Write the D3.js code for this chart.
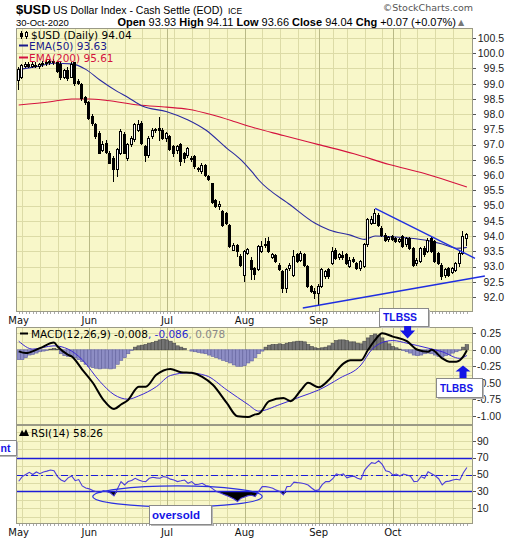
<!DOCTYPE html>
<html>
<head>
<meta charset="utf-8">
<script src="https://cdn.jsdelivr.net/npm/d3@7/dist/d3.min.js"></script>
<style>
  body { margin: 0; background: #fff; }
  text { font-family: "DejaVu Sans", sans-serif; }
</style>
</head>
<body>
<svg id="chart" width="520" height="540"></svg>
<script>
// ---- data (one entry per trading day, 1-May .. 30-Oct-2020) ----
var monthLabels = ["May", "Jun", "Jul", "Aug", "Sep", "Oct"];
var monthStarts = [0, 20, 42, 64, 85, 106];
var weekStarts = [1, 6, 11, 16, 25, 30, 35, 40, 44, 49, 54, 59, 69, 74, 79, 84, 89, 93, 98, 103, 108, 113, 118, 123];

var opens = [99.12,99.22,99.58,99.62,99.58,99.60,99.56,99.62,99.66,99.68,
  99.72,99.70,99.62,99.22,99.42,99.22,99.68,99.08,98.96,98.55,
  98.38,97.92,97.65,97.37,96.80,97.05,96.72,96.55,96.17,96.72,
  97.32,96.55,97.00,97.16,97.48,97.70,96.94,96.66,97.26,97.45,
  97.52,97.46,97.20,97.26,96.94,96.80,96.99,96.70,96.66,96.55,
  96.60,96.22,96.11,96.30,95.95,95.71,95.18,94.97,94.80,94.75,
  94.36,93.54,93.70,93.33,92.72,93.43,93.21,92.95,92.90,93.50,
  93.70,93.82,93.30,93.35,93.05,92.83,92.28,92.95,92.72,93.38,
  93.21,93.38,92.99,92.34,92.17,92.12,92.36,92.67,92.89,93.10,
  93.54,93.30,93.35,93.38,93.00,93.22,93.10,92.94,93.00,93.71,
  94.42,94.42,94.69,94.25,94.03,93.90,93.98,93.92,93.82,93.98,
  93.71,93.93,93.60,93.10,93.16,93.60,93.49,93.93,93.82,93.43,
  93.05,92.69,92.95,92.80,92.86,93.10,93.43,93.93];
var highs = [99.55,99.66,99.70,99.72,99.70,99.72,99.68,99.74,99.78,99.80,
  99.82,99.76,99.70,99.48,99.55,99.70,99.72,99.14,99.02,98.60,
  98.42,98.00,97.72,97.45,97.12,97.15,96.80,96.62,96.88,97.52,
  97.40,97.05,97.28,97.72,97.80,97.78,97.00,97.28,97.55,97.55,
  97.90,97.55,97.40,97.32,97.00,97.00,97.05,96.75,96.92,96.62,
  96.65,96.28,96.40,96.35,96.00,95.75,95.22,95.15,94.85,94.80,
  94.40,93.78,93.75,93.40,93.55,93.62,93.32,93.00,93.70,93.85,
  93.95,93.98,93.45,93.40,93.12,92.90,92.95,93.10,93.54,93.45,
  93.50,93.45,93.05,92.40,92.28,92.42,92.95,92.90,92.95,93.65,
  93.60,93.45,93.50,93.45,93.30,93.30,93.15,93.20,93.78,94.58,
  94.65,94.88,94.75,94.32,94.10,94.00,94.02,93.98,93.95,94.05,
  93.98,93.98,93.65,93.28,93.65,93.68,93.92,94.00,93.88,93.48,
  93.10,92.95,93.00,92.98,93.15,93.50,94.18,94.11];
var lows = [98.78,99.15,99.50,99.52,99.50,99.52,99.48,99.55,99.58,99.60,
  99.62,99.36,99.12,99.15,99.10,99.20,98.92,98.95,98.42,98.30,
  97.82,97.62,97.20,96.68,96.75,96.70,96.35,95.78,95.95,96.65,
  96.68,96.45,96.92,97.10,97.40,96.98,96.42,96.55,97.20,97.38,
  97.12,97.15,97.10,96.80,96.60,96.70,96.30,96.40,96.55,96.42,
  96.20,96.10,96.05,95.95,95.80,95.05,94.92,94.85,94.30,94.35,
  93.60,93.50,93.30,93.00,92.50,93.38,92.56,92.55,92.85,93.45,
  93.60,93.45,93.25,93.10,92.85,92.12,92.12,92.85,92.65,93.10,
  93.15,93.00,92.30,92.12,91.95,91.74,92.30,92.60,92.60,93.05,
  93.20,93.22,93.20,93.05,92.95,93.10,92.88,92.85,92.95,93.65,
  94.35,94.38,94.30,93.98,93.82,93.80,93.85,93.78,93.78,93.60,
  93.65,93.55,93.00,93.02,93.10,93.32,93.45,93.45,93.12,93.05,
  92.56,92.62,92.65,92.75,92.82,93.00,93.38,93.66];
var closes = [99.48,99.60,99.62,99.58,99.62,99.56,99.62,99.66,99.68,99.72,
  99.70,99.40,99.20,99.42,99.18,99.64,99.00,99.02,98.50,98.38,
  97.87,97.68,97.26,96.72,97.02,96.74,96.39,96.17,96.83,97.43,
  96.72,97.00,97.20,97.65,97.65,97.05,96.66,97.20,97.48,97.50,
  97.46,97.20,97.35,96.83,96.72,96.95,96.44,96.55,96.88,96.50,
  96.28,96.17,96.33,96.00,95.84,95.10,94.97,95.05,94.36,94.40,
  93.65,93.70,93.50,93.05,93.49,93.57,92.89,92.75,93.65,93.65,
  93.72,93.49,93.38,93.16,92.89,92.28,92.89,93.05,93.32,93.16,
  93.43,93.05,92.34,92.17,92.12,92.36,92.89,92.83,92.67,93.49,
  93.27,93.38,93.30,93.10,93.21,93.18,92.94,93.16,93.71,94.53,
  94.53,94.75,94.36,94.03,93.87,93.95,93.90,93.82,93.90,93.65,
  93.93,93.60,93.05,93.21,93.60,93.38,93.87,93.49,93.16,93.10,
  92.67,92.90,92.69,92.95,93.10,93.43,93.98,94.04];

// moving averages, read at sample days
var ema50Days = [0, 5, 10, 15, 19, 23, 28, 31, 35, 42, 48, 53, 59, 63, 66, 68, 77, 84, 88, 94, 98, 101, 105, 111, 116, 120, 124, 127];
var ema50Vals = [99.47, 99.56, 99.67, 99.65, 99.47, 99.12, 98.74, 98.55, 98.27, 98.08, 97.81, 97.48, 96.88, 96.50, 96.12, 95.84, 95.02, 94.42, 94.20, 94.03, 93.89, 94.00, 93.98, 93.93, 93.85, 93.74, 93.60, 93.63];
var ema200Days = [0, 9, 15, 20, 25, 34, 42, 48, 55, 61, 65, 75, 85, 95, 105, 115, 122, 127];
var ema200Vals = [98.30, 98.41, 98.50, 98.50, 98.45, 98.30, 98.23, 98.16, 97.97, 97.76, 97.61, 97.30, 97.00, 96.70, 96.35, 96.05, 95.80, 95.61];

// MACD(12,26,9)
var macdDays = [0, 2, 6, 10, 11, 14, 15, 18, 21, 24, 27, 29, 31, 34, 36, 39, 43, 46, 49, 52, 55, 59, 62, 65, 67, 68, 71, 75, 77, 80, 82, 85, 88, 92, 94, 97, 99, 101, 103, 106, 110, 113, 116, 117, 120, 122, 124, 126, 127];
var macdVals = [-0.025, -0.05, 0.025, 0.11, 0.05, -0.076, -0.10, -0.30, -0.50, -0.76, -0.90, -0.83, -0.76, -0.56, -0.56, -0.38, -0.29, -0.34, -0.35, -0.41, -0.53, -0.81, -1.01, -1.02, -0.98, -0.97, -0.78, -0.73, -0.78, -0.61, -0.50, -0.57, -0.45, -0.21, -0.16, -0.16, 0.0, 0.15, 0.25, 0.20, 0.13, 0.0, -0.03, 0.0, -0.13, -0.18, -0.18, -0.10, -0.008];
var signalDays = [0, 4, 10, 14, 18, 23, 27, 31, 34, 39, 43, 48, 53, 59, 65, 68, 74, 80, 85, 91, 97, 100, 103, 106, 110, 116, 120, 125, 127];
var signalVals = [0.13, 0.01, 0.06, 0.01, -0.15, -0.48, -0.68, -0.75, -0.70, -0.56, -0.39, -0.35, -0.39, -0.61, -0.83, -0.93, -0.83, -0.71, -0.61, -0.43, -0.23, 0.0, 0.11, 0.14, 0.10, 0.025, -0.03, -0.13, -0.086];
var histVals = [-0.15,-0.15,-0.12,-0.08,-0.07,-0.05,-0.03,-0.02,-0.01,0.01,
  0.02,0.01,-0.06,-0.09,-0.10,-0.10,-0.12,-0.15,-0.18,-0.22,
  -0.25,-0.27,-0.28,-0.29,-0.28,-0.28,-0.29,-0.28,-0.22,-0.16,
  -0.12,-0.06,-0.01,0.04,0.06,0.07,0.08,0.10,0.11,0.13,
  0.15,0.16,0.15,0.13,0.10,0.06,0.04,0.02,0.00,-0.02,
  -0.03,-0.04,-0.05,-0.06,-0.08,-0.10,-0.12,-0.14,-0.16,-0.18,
  -0.20,-0.23,-0.25,-0.25,-0.24,-0.20,-0.17,-0.12,-0.06,-0.02,
  0.04,0.07,0.08,0.08,0.09,0.08,0.10,0.11,0.12,0.13,
  0.13,0.12,0.08,0.05,0.03,0.02,0.03,0.04,0.06,0.10,
  0.14,0.15,0.15,0.14,0.12,0.12,0.10,0.09,0.13,0.18,
  0.22,0.24,0.22,0.18,0.13,0.09,0.05,0.03,0.01,-0.01,
  -0.03,-0.05,-0.08,-0.09,-0.08,-0.06,-0.05,-0.06,-0.08,-0.10,
  -0.11,-0.09,-0.07,-0.05,-0.03,-0.01,0.04,0.078];

// RSI(14)
var rsiVals = [42,47.5,50,52.5,50,53,51,53,54,55.3,
  54.5,47.5,43.5,41.6,46,48.2,42.7,44,36.5,34,
  33,31,29.5,28.6,31,29.5,28,24.7,33,41.6,
  37.6,41.6,43,45.5,43.5,42,41.6,45.5,46.7,46,
  45.5,47.5,46.7,44.5,43.5,41.6,42.5,43.5,39.6,41.6,
  38,38.5,39.6,37,36,33,30,28.5,26.5,25,
  23,21,18,22,23.5,25,25.5,24,30,35.7,
  35.7,35,33.7,31.5,29.8,25.9,35.7,36,41,40.4,
  40,39,37.6,34,31,31.8,38,41.6,41.6,45,
  50.6,49.4,50.6,46,47.5,48,45.5,44.3,55,60,
  64,63,66.2,62,54.5,53.3,49.4,50.5,48.2,50.6,
  49.4,48,41.6,42,47.5,45.5,53.3,51,48.5,45,
  37.6,41.6,42.2,43.5,44.3,43.5,52,58.26];

var priceTicks = [92.0, 92.5, 93.0, 93.5, 94.0, 94.5, 95.0, 95.5, 96.0, 96.5, 97.0, 97.5, 98.0, 98.5, 99.0, 99.5, 100.0, 100.5];
var macdTicks = [0.25, 0, -0.25, -0.5, -0.75, -1.0];
var rsiTicks = [10, 30, 50, 70, 90];

// hand-drawn annotations (day index, value)
var trendLines = [
  {from: [101, 94.91], to: [129.3, 93.27]},
  {from: [80.5, 91.64], to: [132.1, 92.69]}
];

// ---- layout ----
var svg = d3.select("#chart");
var L = 16, R = 473;
var mainTop = 28, mainBot = 312, macdTop = 327, macdBot = 425, rsiTop = 425, rsiBot = 524;

var x = d3.scaleLinear().domain([0, 127]).range([18.7, 466.9]);
var yP = d3.scaleLinear().domain([92, 100.5]).range([297, 38]);
var yM = d3.scaleLinear().domain([-1, 0.25]).range([415.7, 333.3]);
var yR = d3.scaleLinear().domain([10, 90]).range([508.3, 440.7]);
var px = function(i) { return Math.round(x(i)) + 0.5; };
var crisp = function(v) { return Math.round(v) + 0.5; };

var bgCol = "#f8f7c9", gridCol = "#dcdba6", monthCol = "#b9b986", borderCol = "#9a9a86";

var defs = svg.append("defs");
function panel(id, top, bot, hVals, yScale) {
  defs.append("clipPath").attr("id", id).append("rect")
    .attr("x", L).attr("y", top).attr("width", R - L).attr("height", bot - top);
  var g = svg.append("g");
  g.append("rect").attr("x", L).attr("y", top).attr("width", R - L).attr("height", bot - top).attr("fill", bgCol);
  var gc = g.append("g").attr("clip-path", "url(#" + id + ")");
  gc.selectAll(".hg").data(hVals).join("line").attr("class", "hg")
    .attr("x1", L).attr("x2", R)
    .attr("y1", function(d) { return crisp(yScale(d)); })
    .attr("y2", function(d) { return crisp(yScale(d)); })
    .attr("stroke", gridCol);
  gc.selectAll(".wg").data(weekStarts).join("line").attr("class", "wg")
    .attr("x1", px).attr("x2", px).attr("y1", top).attr("y2", bot)
    .attr("stroke", gridCol);
  gc.selectAll(".mg").data(monthStarts.slice(1)).join("line").attr("class", "mg")
    .attr("x1", px).attr("x2", px).attr("y1", top).attr("y2", bot)
    .attr("stroke", monthCol);
  return g;
}

var gMain = panel("clipMain", mainTop, mainBot, priceTicks.concat([91.5]), yP);
var gMacd = panel("clipMacd", macdTop, macdBot, d3.range(-1.125, 0.4, 0.125), yM);
var gRsi = panel("clipRsi", rsiTop, rsiBot, d3.range(0, 101, 10), yR);

// ---- price panel ----
var pc = gMain.append("g").attr("clip-path", "url(#clipMain)");
var lineP = function(days, vals) {
  return d3.line().x(function(d) { return x(d); })
    .y(function(d, i) { return yP(vals[i]); }).curve(d3.curveMonotoneX)(days);
};
pc.append("path").attr("d", lineP(ema200Days, ema200Vals)).attr("fill", "none").attr("stroke", "#d4123e").attr("stroke-width", 1.1);
pc.append("path").attr("d", lineP(ema50Days, ema50Vals)).attr("fill", "none").attr("stroke", "#2a2aa0").attr("stroke-width", 1.1);

var days = d3.range(closes.length);
var cg = pc.selectAll(".candle").data(days).join("g").attr("class", "candle").attr("shape-rendering", "crispEdges");
cg.append("line")
  .attr("x1", function(i) { return Math.round(x(i)) - 0.5; })
  .attr("x2", function(i) { return Math.round(x(i)) - 0.5; })
  .attr("y1", function(i) { return yP(highs[i]); })
  .attr("y2", function(i) { return yP(lows[i]); })
  .attr("stroke", "#000");
cg.append("rect")
  .attr("x", function(i) { return Math.round(x(i)) - 1.5; })
  .attr("width", 2)
  .attr("y", function(i) { return yP(Math.max(opens[i], closes[i])); })
  .attr("height", function(i) { return Math.max(0.8, Math.abs(yP(opens[i]) - yP(closes[i]))); })
  .attr("fill", function(i) { return closes[i] >= opens[i] ? "#fff" : "#000"; })
  .attr("stroke", "#000").attr("stroke-width", 1);

// ---- MACD panel ----
var mc = gMacd.append("g").attr("clip-path", "url(#clipMacd)");
mc.selectAll(".hist").data(days).join("rect").attr("class", "hist")
  .attr("x", function(i) { return x(i) - 1.75; })
  .attr("width", 3.5)
  .attr("y", function(i) { return Math.min(yM(0), yM(histVals[i])); })
  .attr("height", function(i) { return Math.abs(yM(histVals[i]) - yM(0)); })
  .attr("fill", function(i) { return histVals[i] >= 0 ? "#747474" : "#8d8dc4"; })
  .attr("stroke", function(i) { return histVals[i] >= 0 ? "#4a4a4a" : "#6262a0"; })
  .attr("stroke-width", 0.6);
var lineM = function(ds, vals) {
  return d3.line().x(function(d) { return x(d); })
    .y(function(d, i) { return yM(vals[i]); }).curve(d3.curveMonotoneX)(ds);
};
mc.append("path").attr("d", lineM(signalDays, signalVals)).attr("fill", "none").attr("stroke", "#3b28d6").attr("stroke-width", 1);
mc.append("path").attr("d", lineM(macdDays, macdVals)).attr("fill", "none").attr("stroke", "#000").attr("stroke-width", 2);

// ---- RSI panel ----
var rc = gRsi.append("g").attr("clip-path", "url(#clipRsi)");
rc.append("path")
  .attr("d", d3.area().x(function(i) { return x(i); })
    .y0(yR(30)).y1(function(i) { return yR(Math.min(rsiVals[i], 30)); })(days))
  .attr("fill", "#000");
[70, 30].forEach(function(v) {
  rc.append("line").attr("x1", L).attr("x2", R).attr("y1", crisp(yR(v))).attr("y2", crisp(yR(v)))
    .attr("stroke", "#1c1cd8").attr("stroke-width", 1.5);
});
rc.append("line").attr("x1", L).attr("x2", R).attr("y1", crisp(yR(50))).attr("y2", crisp(yR(50)))
  .attr("stroke", "#1c1cd8").attr("stroke-width", 1).attr("stroke-dasharray", "7,3,2,3");
rc.append("path")
  .attr("d", d3.line().x(function(i) { return x(i); }).y(function(i) { return yR(rsiVals[i]); })(days))
  .attr("fill", "none").attr("stroke", "#4a3cdc").attr("stroke-width", 1.1);

// ---- borders, axes ----
[[mainTop, mainBot], [macdTop, macdBot], [rsiTop, rsiBot]].forEach(function(p) {
  svg.append("rect").attr("x", L + 0.5).attr("y", p[0] + 0.5).attr("width", R - L - 1).attr("height", p[1] - p[0] - 1)
    .attr("fill", "none").attr("stroke", borderCol);
});

function rightAxis(ticks, yScale, fmt, anchor, xPos) {
  var g = svg.append("g").attr("font-size", 10.5).attr("fill", "#222");
  g.selectAll("line").data(ticks).join("line")
    .attr("x1", R).attr("x2", R + 3)
    .attr("y1", function(d) { return crisp(yScale(d)); }).attr("y2", function(d) { return crisp(yScale(d)); })
    .attr("stroke", "#555");
  g.selectAll("text").data(ticks).join("text")
    .attr("x", xPos).attr("y", function(d) { return yScale(d) + 3.8; })
    .attr("text-anchor", anchor)
    .style("font-family", "Liberation Sans, Arial, sans-serif")
    .text(fmt);
}
rightAxis(priceTicks, yP, function(d) { return d.toFixed(1); }, "end", 504);
rightAxis(macdTicks, yM, function(d) { return d.toFixed(2); }, "end", 501);
rightAxis(rsiTicks, yR, function(d) { return d; }, "start", 477);

// month labels; the upper row's "Oct" sits under the TLBSS note in the reference
function monthAxis(yBase, tickY, count) {
  var g = svg.append("g");
  g.selectAll("line").data(days).join("line")
    .attr("x1", px).attr("x2", px).attr("y1", tickY).attr("y2", tickY + 2)
    .attr("stroke", "#aaa");
  g.selectAll("text").data(monthStarts.slice(0, count)).join("text")
    .attr("x", function(d) { return x(d); }).attr("y", yBase)
    .attr("text-anchor", "middle").attr("font-size", 10).attr("fill", "#111")
    .text(function(d, i) { return monthLabels[i]; });
}
monthAxis(323.5, mainBot, 5);
monthAxis(535.5, rsiBot, 6);

// ---- header ----
var hdr = svg.append("g");
hdr.append("text").attr("x", 16).attr("y", 14).attr("font-size", 13).attr("font-weight", "bold")
  .style("font-family", "Liberation Sans, Arial, sans-serif").text("$USD");
hdr.append("text").attr("x", 53).attr("y", 14).attr("font-size", 10.5)
  .style("font-family", "Liberation Sans, Arial, sans-serif").text("US Dollar Index - Cash Settle (EOD)");
hdr.append("text").attr("x", 228).attr("y", 14).attr("font-size", 8.5)
  .style("font-family", "Liberation Sans, Arial, sans-serif").text("ICE");
hdr.append("text").attr("x", 16).attr("y", 26).attr("font-size", 9.5)
  .style("font-family", "Liberation Sans, Arial, sans-serif").text("30-Oct-2020");
var ohlc = hdr.append("text").attr("x", 456).attr("y", 26).attr("text-anchor", "end").attr("font-size", 11)
  .style("font-family", "Liberation Sans, Arial, sans-serif");
[["Open", true], [" 93.93 ", false], ["High", true], [" 94.11 ", false], ["Low", true], [" 93.66 ", false],
 ["Close", true], [" 94.04 ", false], ["Chg", true], [" +0.07 (+0.07%)", false]].forEach(function(s) {
  ohlc.append("tspan").attr("font-weight", s[1] ? "bold" : "normal").text(s[0]);
});
hdr.append("text").attr("x", 458).attr("y", 25).attr("font-size", 8).attr("fill", "#777").text("\u25B2");
svg.append("text").attr("x", 473).attr("y", 11).attr("text-anchor", "end").attr("font-size", 9.5)
  .attr("fill", "#555").text("\u00A9StockCharts.com");

// ---- legends ----
var lg = svg.append("g").attr("font-size", 10.5);
// tiny candle icon
lg.append("line").attr("x1", 21.5).attr("x2", 21.5).attr("y1", 31).attr("y2", 39).attr("stroke", "#000");
lg.append("rect").attr("x", 20).attr("y", 33).attr("width", 3).attr("height", 4).attr("fill", "#000");
lg.append("line").attr("x1", 26.5).attr("x2", 26.5).attr("y1", 31).attr("y2", 39).attr("stroke", "#000");
lg.append("rect").attr("x", 25.5).attr("y", 32.5).attr("width", 2).attr("height", 4).attr("fill", "#fff").attr("stroke", "#000");
lg.append("text").attr("x", 31).attr("y", 38.5).attr("fill", "#000").text("$USD (Daily) 94.04");
lg.append("line").attr("x1", 19).attr("x2", 28).attr("y1", 45.5).attr("y2", 45.5).attr("stroke", "#1a1a8c").attr("stroke-width", 2);
lg.append("text").attr("x", 29).attr("y", 49.5).attr("fill", "#1a1a8c").text("EMA(50) 93.63");
lg.append("line").attr("x1", 19).attr("x2", 28).attr("y1", 57.5).attr("y2", 57.5).attr("stroke", "#d4123e").attr("stroke-width", 2);
lg.append("text").attr("x", 29).attr("y", 61.5).attr("fill", "#d4123e").text("EMA(200) 95.61");

lg.append("line").attr("x1", 20).attr("x2", 28).attr("y1", 333.5).attr("y2", 333.5).attr("stroke", "#000").attr("stroke-width", 2);
var ml = lg.append("text").attr("x", 31).attr("y", 337.5);
ml.append("tspan").attr("fill", "#000").text("MACD(12,26,9) -0.008");
ml.append("tspan").attr("fill", "#2a2ad0").text(", -0.086");
ml.append("tspan").attr("fill", "#888").text(", 0.078");

lg.append("path").attr("d", "M19,436 L22,430 L24,433 L26,429 L29,436 Z").attr("fill", "#000");
lg.append("text").attr("x", 31).attr("y", 436.5).attr("fill", "#000").text("RSI(14) 58.26");

// ---- annotations ----
var ann = svg.append("g");
ann.selectAll(".tl").data(trendLines).join("line").attr("class", "tl")
  .attr("x1", function(d) { return x(d.from[0]); }).attr("y1", function(d) { return yP(d.from[1]); })
  .attr("x2", function(d) { return x(d.to[0]); }).attr("y2", function(d) { return yP(d.to[1]); })
  .attr("stroke", "#1f2ee0").attr("stroke-width", 1.4);

ann.append("ellipse").attr("cx", x(45)).attr("cy", yR(24)).attr("rx", x(69) - x(45)).attr("ry", 10.5)
  .attr("fill", "none").attr("stroke", "#2a30e0").attr("stroke-width", 1.2);

function label(x0, y0, w, h, txt, tx, tw, fs) {
  ann.append("rect").attr("x", x0 + 2).attr("y", y0 + 2).attr("width", w).attr("height", h).attr("fill", "#b8b8b8");
  ann.append("rect").attr("x", x0 + 0.5).attr("y", y0 + 0.5).attr("width", w).attr("height", h)
    .attr("fill", "#fff").attr("stroke", "#8a8a8a");
  var t = ann.append("text").attr("x", tx).attr("y", y0 + h / 2 + 4.2).attr("font-size", fs || 11.5).attr("font-weight", "bold")
    .attr("fill", "#1414e6").style("font-family", "Liberation Sans, Arial, sans-serif").text(txt);
  if (tw) t.attr("textLength", tw).attr("lengthAdjust", "spacingAndGlyphs");
}
label(-30, 440, 46, 15, "nt", 0.5, 0, 10.5);
label(149, 505, 62, 19, "oversold", 152, 0);
label(379, 308, 49, 18, "TLBSS", 383, 34);
label(436, 378, 46, 19, "TLBBS", 440, 33);

// arrows
var ax1 = x(110.2);
ann.append("path").attr("d", "M" + (ax1 - 3.5) + ",326 h7 v4.5 h4 l-7.5,8 l-7.5,-8 h4 z").attr("fill", "#1414e6");
var ax2 = x(125.9);
ann.append("path").attr("d", "M" + (ax2 - 3.5) + ",378 h7 v-6.5 h4 l-7.5,-6 l-7.5,6 h4 z").attr("fill", "#1414e6");
</script>
</body>
</html>
